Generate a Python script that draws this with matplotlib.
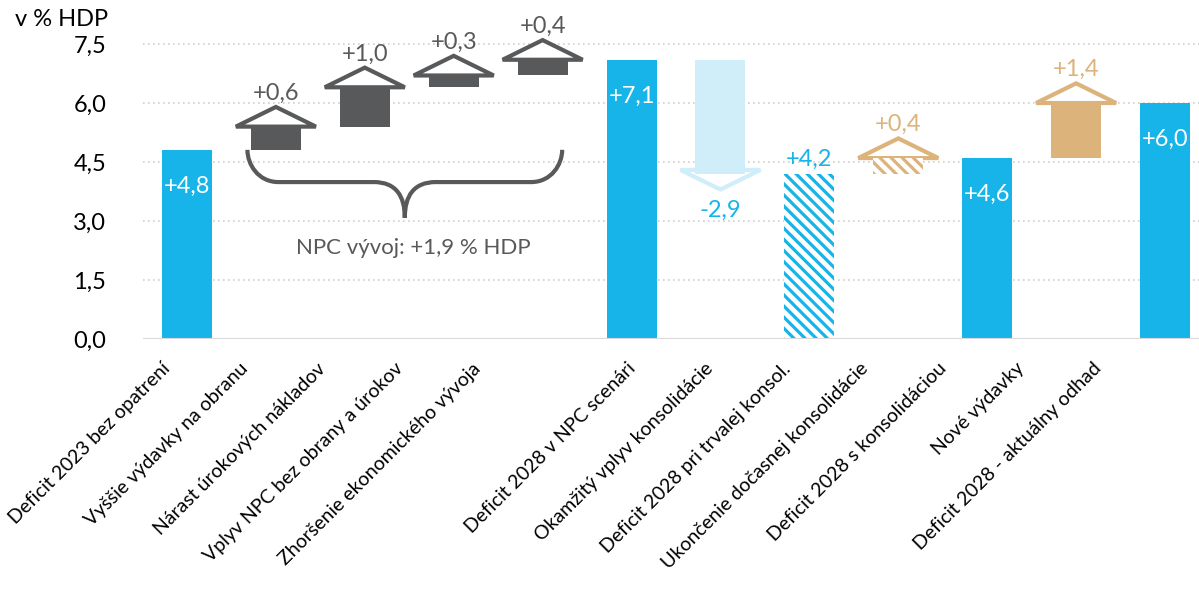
import numpy as np
import matplotlib.pyplot as plt
from matplotlib.patches import Polygon, PathPatch
from matplotlib.path import Path

plt.rcParams['font.family'] = ['Lato', 'DejaVu Sans']
plt.rcParams['hatch.linewidth'] = 2.3

# --- data -------------------------------------------------------------
categories = [
    "Deficit 2023 bez opatrení",
    "Vyššie výdavky na obranu",
    "Nárast úrokových nákladov",
    "Vplyv NPC bez obrany a úrokov",
    "Zhoršenie ekonomického vývoja",
    "Deficit 2028 v NPC scenári",
    "Okamžitý vplyv konsolidácie",
    "Deficit 2028 pri trvalej konsol.",
    "Ukončenie dočasnej konsolidácie",
    "Deficit 2028 s konsolidáciou",
    "Nové výdavky",
    "Deficit 2028 - aktuálny odhad",
]
values = [4.8, 0.6, 1.0, 0.3, 0.4, 7.1, -2.9, 4.2, 0.4, 4.6, 1.4, 6.0]
is_total = [True, False, False, False, False, True, False, True, False, True, False, True]
groups = ["total", "npc", "npc", "npc", "npc", "total", "cons",
          "perm", "temp", "total", "new", "total"]
y_ticks = [0.0, 1.5, 3.0, 4.5, 6.0, 7.5]
brace_text = "NPC vývoj: +1,9 % HDP"
unit_text = "v % HDP"

# --- styles -----------------------------------------------------------
BLUE = "#16B4E9"
LIGHT_BLUE = "#CFEEF9"
GRAY = "#58595B"
TAN = "#DCB37A"
TEXT_GRAY = "#595959"

style = {
    "total": dict(color=BLUE, hatch=False, label=BLUE),
    "perm": dict(color=BLUE, hatch=True, label=BLUE),
    "npc": dict(color=GRAY, hatch=False, label=TEXT_GRAY),
    "cons": dict(color=LIGHT_BLUE, hatch=False, label=BLUE),
    "temp": dict(color=TAN, hatch=True, label=TAN),
    "new": dict(color=TAN, hatch=False, label=TAN),
}

BAR_W = 0.5625
HEAD_W = 0.9
HEAD_H = 0.5


def fmt(v):
    return f"{v:+.1f}".replace(".", ",")


def draw_bar(ax, x, bottom, height, st):
    if st["hatch"]:
        ax.bar(x, height, bottom=bottom, width=BAR_W, facecolor="white",
               edgecolor=st["color"], hatch="\\\\\\", linewidth=0, zorder=4)
    else:
        ax.bar(x, height, bottom=bottom, width=BAR_W, color=st["color"],
               linewidth=0, zorder=4)


def draw_head(ax, x, end, delta, color):
    sign = 1 if delta > 0 else -1
    base = end if sign > 0 else end + 0.1
    apex = base + sign * HEAD_H
    tri = Polygon([(x - HEAD_W / 2, base), (x + HEAD_W / 2, base), (x, apex)],
                  closed=True, facecolor="white", edgecolor=color,
                  linewidth=3, joinstyle="miter", zorder=3)
    ax.add_patch(tri)
    return apex


def brace_path(x0, x1, top, flat, tip):
    xm = (x0 + x1) / 2
    r = 0.35
    verts = [
        (x0, top),
        (x0, flat + 0.55 * (top - flat)), (x0 + 0.12, flat), (x0 + r, flat),
        (xm - r, flat),
        (xm - 0.1, flat), (xm, flat - 0.35), (xm, tip),
        (xm, flat - 0.35), (xm + 0.1, flat), (xm + r, flat),
        (x1 - r, flat),
        (x1 - 0.12, flat), (x1, flat + 0.55 * (top - flat)), (x1, top),
    ]
    codes = [Path.MOVETO,
             Path.CURVE4, Path.CURVE4, Path.CURVE4,
             Path.LINETO,
             Path.CURVE4, Path.CURVE4, Path.CURVE4,
             Path.CURVE4, Path.CURVE4, Path.CURVE4,
             Path.LINETO,
             Path.CURVE4, Path.CURVE4, Path.CURVE4]
    return Path(verts, codes)


# --- figure -----------------------------------------------------------
fig = plt.figure(figsize=(11.99, 5.97), dpi=100)
# plot area runs slightly past the right edge of the picture
ax = fig.add_axes([142.5 / 1199, 258 / 597, 1067 / 1199, 8.2 * 39.33 / 597])

x = np.arange(len(categories))
level = 0.0
for i, (v, tot, g) in enumerate(zip(values, is_total, groups)):
    st = style[g]
    if tot:
        draw_bar(ax, x[i], 0, v, st)
        level = v
        if st["hatch"]:
            ax.text(x[i], v + 0.38, fmt(v), ha="center", va="center",
                    fontsize=17, color=st["label"], zorder=6)
        else:
            ax.text(x[i], v - 0.92, fmt(v), ha="center", va="center",
                    fontsize=17, color="white", zorder=6)
    else:
        end = level + v
        draw_bar(ax, x[i], min(level, end), abs(v), st)
        apex = draw_head(ax, x[i], end, v, st["color"])
        if v > 0:
            ax.text(x[i], apex + 0.35, fmt(v), ha="center", va="center",
                    fontsize=17, color=st["label"], zorder=6)
        else:
            ax.text(x[i], apex - 0.53, fmt(v), ha="center", va="center",
                    fontsize=17, color=st["label"], zorder=6)
        level = end

# curly brace under the NPC steps
ax.add_patch(PathPatch(brace_path(0.68, 4.22, 4.81, 3.99, 3.08),
                       facecolor="none", edgecolor=TEXT_GRAY, linewidth=3,
                       capstyle="butt", zorder=5))
ax.text(2.55, 2.31, brace_text, ha="center", va="center", fontsize=16,
        color=TEXT_GRAY)

# axes styling
ax.set_xlim(-0.5, len(categories) - 0.5)
ax.set_ylim(0, 8.2)
ax.set_yticks(y_ticks)
ax.set_yticklabels([f"{t:.1f}".replace(".", ",") for t in y_ticks])
for t in y_ticks[1:]:
    ax.axhline(t, color="#D0D0D0", linestyle=(0, (1, 2)), linewidth=1.2,
               zorder=0)
ax.axhline(0, color="#D9D9D9", linewidth=1.5, zorder=5)
for s in ax.spines.values():
    s.set_visible(False)
ax.tick_params(axis="y", length=0, pad=26, labelsize=17, labelcolor="black")
ax.tick_params(axis="x", length=0, pad=15, labelsize=14)

# category labels sit on their own evenly spaced slots (one gap after NPC)
label_slot = [0, 1, 2, 3, 4, 6, 7, 8, 9, 10, 11, 12]
ax.set_xticks([-0.29 + 0.873 * s for s in label_slot])
ax.set_xticklabels(categories, rotation=45, ha="right", va="top",
                   rotation_mode="anchor")

fig.text(15 / 1199, 1 - 20 / 597, unit_text, ha="left", va="center",
         fontsize=17)

fig.savefig("out.png", dpi=100)
